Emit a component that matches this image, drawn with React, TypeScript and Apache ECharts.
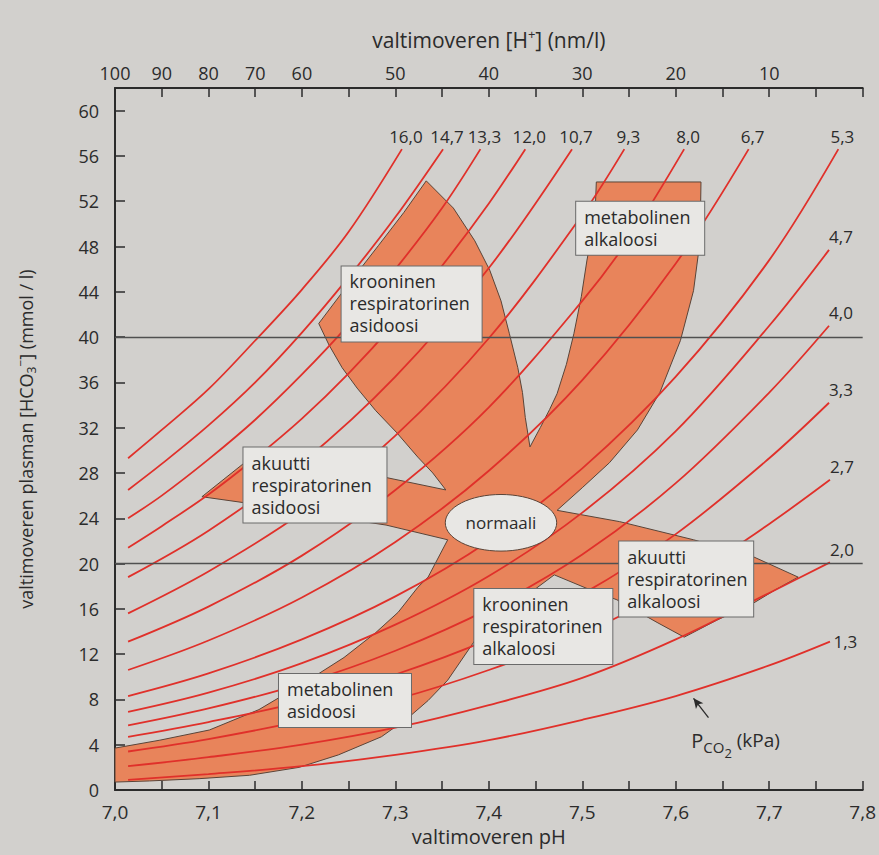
import React, { useEffect, useRef } from 'react';
import * as echarts from 'echarts';

// ---------- data ----------
const phTickLabels = ['7,0', '7,1', '7,2', '7,3', '7,4', '7,5', '7,6', '7,7', '7,8'];
const hTickPositions = [7.0, 7.05, 7.1, 7.15, 7.2, 7.3, 7.4, 7.5, 7.6, 7.7];
const hTickLabels = ['100', '90', '80', '70', '60', '50', '40', '30', '20', '10'];

const isobarLabels = ['16,0', '14,7', '13,3', '12,0', '10,7', '9,3', '8,0', '6,7', '5,3', '4,7', '4,0', '3,3', '2,7', '2,0', '1,3'];

const iso16_0 = [[7.014, 29.3], [7.05, 31.8], [7.1, 35.4], [7.15, 39.7], [7.2, 44.2], [7.25, 49.3], [7.307, 56.6]];
const iso14_7 = [[7.014, 26.5], [7.05, 28.8], [7.1, 32.2], [7.15, 36.0], [7.2, 40.4], [7.25, 45.3], [7.3, 50.6], [7.351, 56.6]];
const iso13_3 = [[7.014, 24.0], [7.05, 26.0], [7.1, 29.2], [7.15, 32.7], [7.2, 36.7], [7.25, 41.1], [7.3, 46.0], [7.35, 51.4], [7.391, 56.6]];
const iso12_0 = [[7.014, 21.4], [7.05, 23.3], [7.1, 26.1], [7.15, 29.3], [7.2, 32.8], [7.25, 36.8], [7.3, 41.3], [7.35, 46.3], [7.4, 51.8], [7.439, 56.6]];
const iso10_7 = [[7.014, 18.8], [7.1, 22.9], [7.2, 28.9], [7.3, 36.5], [7.4, 46.1], [7.489, 56.6]];
const iso9_3 = [[7.014, 15.6], [7.1, 19.3], [7.2, 24.5], [7.3, 31.3], [7.4, 39.9], [7.5, 50.8], [7.545, 56.6]];
const iso8_0 = [[7.014, 13.1], [7.1, 16.2], [7.2, 20.7], [7.3, 26.5], [7.4, 33.8], [7.5, 43.2], [7.55, 48.7], [7.609, 56.6]];
const iso6_7 = [[7.014, 10.6], [7.1, 13.2], [7.2, 17.0], [7.3, 21.9], [7.4, 28.2], [7.5, 36.2], [7.6, 46.5], [7.678, 56.6]];
const iso5_3 = [[7.014, 8.3], [7.1, 10.3], [7.2, 13.3], [7.3, 17.1], [7.4, 22.0], [7.5, 28.4], [7.6, 36.5], [7.7, 46.8], [7.774, 56.6]];
const iso4_7 = [[7.014, 6.9], [7.1, 8.6], [7.2, 11.2], [7.3, 14.6], [7.4, 18.9], [7.5, 24.5], [7.6, 31.7], [7.7, 41.0], [7.764, 47.7]];
const iso4_0 = [[7.014, 5.7], [7.1, 7.2], [7.2, 9.4], [7.3, 12.3], [7.4, 16.0], [7.5, 20.8], [7.6, 27.1], [7.7, 35.1], [7.764, 41.0]];
const iso3_3 = [[7.014, 4.7], [7.1, 6.0], [7.2, 7.8], [7.3, 10.2], [7.4, 13.3], [7.5, 17.3], [7.6, 22.6], [7.7, 29.3], [7.764, 34.2]];
const iso2_7 = [[7.014, 3.4], [7.1, 4.5], [7.2, 6.1], [7.3, 8.0], [7.4, 10.6], [7.5, 13.8], [7.6, 18.0], [7.7, 23.5], [7.765, 27.4]];
const iso2_0 = [[7.014, 2.1], [7.1, 2.9], [7.2, 4.0], [7.3, 5.5], [7.4, 7.5], [7.5, 9.9], [7.6, 13.3], [7.7, 17.4], [7.765, 20.1]];
const iso1_3 = [[7.014, 0.9], [7.1, 1.4], [7.2, 2.1], [7.3, 3.1], [7.4, 4.4], [7.5, 6.2], [7.6, 8.3], [7.7, 11.0], [7.765, 13.1]];

const isobars = [iso16_0, iso14_7, iso13_3, iso12_0, iso10_7, iso9_3, iso8_0, iso6_7, iso5_3, iso4_7, iso4_0, iso3_3, iso2_7, iso2_0, iso1_3];

// outline of the shaded (orange) compensation zones, [pH, HCO3]
const regionOutline = [
  [7.333, 53.8], [7.362, 51.4], [7.385, 48.5], [7.401, 45.9], [7.413, 43.2], [7.422, 40.3], [7.431, 37.3], [7.436, 35.1], [7.439, 32.9], [7.444, 30.3],
  [7.455, 32.0], [7.465, 33.6], [7.473, 35.0], [7.483, 37.6], [7.491, 40.3], [7.499, 43.6], [7.505, 46.8], [7.511, 49.4], [7.514, 51.6], [7.515, 53.7],
  [7.627, 53.7], [7.626, 48.5], [7.619, 44.1], [7.605, 39.7], [7.583, 35.1], [7.559, 31.8], [7.529, 28.9], [7.5, 26.7], [7.473, 24.7],
  [7.54, 23.7], [7.619, 22.1], [7.683, 20.6], [7.731, 18.8],
  [7.707, 17.7], [7.683, 16.5], [7.644, 15.0], [7.609, 13.5],
  [7.58, 14.8], [7.537, 16.8], [7.505, 17.8], [7.47, 19.0],
  [7.431, 16.6], [7.385, 13.2], [7.356, 9.7], [7.335, 7.9], [7.314, 6.4], [7.285, 4.7], [7.239, 3.1], [7.197, 2.0], [7.144, 1.3], [7.09, 1.0], [7.037, 0.8], [7.0, 0.7],
  [7.0, 3.7], [7.048, 4.4], [7.101, 5.3], [7.154, 7.1], [7.207, 9.7], [7.245, 11.7], [7.279, 13.9], [7.303, 15.7], [7.324, 17.9], [7.335, 18.8], [7.356, 22.1],
  [7.29, 23.4], [7.218, 24.3], [7.136, 25.4], [7.093, 25.9],
  [7.137, 28.8], [7.218, 28.0], [7.29, 27.6], [7.354, 26.5],
  [7.34, 28.0], [7.324, 29.4], [7.301, 31.6], [7.279, 33.5], [7.259, 35.5], [7.243, 37.3], [7.229, 39.3], [7.218, 41.2],
  [7.25, 44.7], [7.282, 48.1], [7.309, 51.0],
];

const normalCenter = [7.413, 23.6];
const normalHalfSize = [0.0596, 2.5];

const boxTexts = [
  'krooninen\nrespiratorinen\nasidoosi',
  'metabolinen\nalkaloosi',
  'akuutti\nrespiratorinen\nasidoosi',
  'akuutti\nrespiratorinen\nalkaloosi',
  'krooninen\nrespiratorinen\nalkaloosi',
  'metabolinen\nasidoosi',
];

const refLines = [20, 40];

// ---------- layout / styles ----------
const boxAnchors = [[7.243, 46.2], [7.494, 51.9], [7.138, 30.2], [7.54, 21.9], [7.385, 17.7], [7.176, 10.2]];
const boxWidths = [140, 128, 143, 134, 138, 132];
const pcoAnchor = [7.664, 4.4];
const arrowFrom = [7.635, 6.4];
const arrowTo = [7.619, 8.1];

const FONT = '"Open Sans", "Noto Sans", sans-serif';
const BG = '#d2d0cd';
const ORANGE = '#e8845b';
const RED = '#e0302a';
const BOXFILL = '#e8e7e4';
const EDGE = '#5a4438';
const TXT = '#2b2b2b';

function buildOption(): any {
  const series: any[] = [];

  series.push({
    type: 'custom',
    z: 1,
    silent: true,
    data: [regionOutline[0]],
    renderItem: (_p: any, api: any) => ({
      type: 'polygon',
      shape: { points: regionOutline.map((pt) => api.coord(pt)) },
      style: { fill: ORANGE, stroke: EDGE, lineWidth: 1 },
    }),
  });

  isobars.forEach((c, i) => {
    series.push({
      type: 'line',
      z: 3,
      silent: true,
      data: c,
      smooth: 0.35,
      symbol: 'none',
      showSymbol: false,
      lineStyle: { color: RED, width: 1.8 },
      markLine:
        i === 0
          ? {
              silent: true,
              symbol: ['none', 'none'],
              label: { show: false },
              lineStyle: { color: '#505050', width: 1.4, type: 'solid' },
              data: refLines.map((v) => ({ yAxis: v })),
            }
          : undefined,
    });
  });

  series.push({
    type: 'scatter',
    z: 6,
    silent: true,
    symbolSize: 1,
    itemStyle: { color: 'rgba(0,0,0,0)', opacity: 1 },
    data: isobars.map((c, i) => {
      const last = c[c.length - 1];
      let label: any;
      if (i < 9) label = { position: 'top', distance: 4, offset: [4, 0] };
      else if (i < 14) label = { position: 'top', distance: 4, offset: [12, 0] };
      else label = { position: 'right', distance: 3 };
      return {
        value: last,
        label: { show: true, formatter: isobarLabels[i], color: TXT, fontSize: 17, fontFamily: FONT, ...label },
      };
    }),
  });

  series.push({
    type: 'custom',
    z: 8,
    silent: true,
    data: [normalCenter],
    renderItem: (_p: any, api: any) => {
      const c = api.coord([api.value(0), api.value(1)]);
      const s = api.size(normalHalfSize);
      return {
        type: 'group',
        children: [
          { type: 'ellipse', shape: { cx: c[0], cy: c[1], rx: s[0], ry: s[1] }, style: { fill: BOXFILL, stroke: EDGE, lineWidth: 1 } },
          { type: 'text', x: c[0], y: c[1], style: { text: 'normaali', fill: TXT, font: `17px ${FONT}`, align: 'center', verticalAlign: 'middle' } },
        ],
      };
    },
  });

  series.push({
    type: 'scatter',
    z: 10,
    silent: true,
    symbolSize: 1,
    itemStyle: { color: 'rgba(0,0,0,0)', opacity: 1 },
    data: boxAnchors.map((p, i) => ({
      value: p,
      label: {
        show: true,
        formatter: boxTexts[i],
        position: [0, 0],
        align: 'left',
        verticalAlign: 'top',
        width: boxWidths[i] - 14,
        lineHeight: 22,
        fontSize: 18,
        fontFamily: FONT,
        color: TXT,
        backgroundColor: BOXFILL,
        borderColor: '#6a6a6a',
        borderWidth: 1,
        padding: [4, 6, 5, 8],
      },
    })),
  });

  series.push({
    type: 'scatter',
    z: 10,
    silent: true,
    symbolSize: 1,
    itemStyle: { color: 'rgba(0,0,0,0)', opacity: 1 },
    data: [
      {
        value: pcoAnchor,
        label: {
          show: true,
          position: 'inside',
          formatter: '{p|P}{s|CO}{ss|2}{n| (kPa)}',
          rich: {
            p: { fontSize: 20, fontFamily: FONT, color: TXT },
            s: { fontSize: 15, fontFamily: FONT, color: TXT, padding: [14, 0, 0, 0] },
            ss: { fontSize: 13, fontFamily: FONT, color: TXT, padding: [26, 0, 0, 0] },
            n: { fontSize: 19, fontFamily: FONT, color: TXT },
          },
        },
      },
    ],
    markLine: {
      silent: true,
      symbol: ['none', 'arrow'],
      symbolSize: [7, 10],
      label: { show: false },
      lineStyle: { color: '#2a2a2a', width: 1.3, type: 'solid' },
      data: [[{ coord: arrowFrom }, { coord: arrowTo }]],
    },
  });

  const axisCommon = {
    type: 'value',
    min: 7.0,
    max: 7.8,
    interval: 0.05,
    splitLine: { show: false },
    axisLine: { show: true, lineStyle: { color: '#2b2b2b', width: 2 } },
    axisTick: { show: true, inside: true, length: 9, lineStyle: { color: '#2b2b2b', width: 1.5 } },
  };

  return {
    animation: false,
    backgroundColor: BG,
    textStyle: { fontFamily: FONT },
    grid: { left: 115, right: 12, top: 88, bottom: 65 },
    xAxis: [
      {
        ...axisCommon,
        position: 'bottom',
        name: 'valtimoveren pH',
        nameLocation: 'middle',
        nameGap: 36,
        nameTextStyle: { fontSize: 20, color: TXT, fontFamily: FONT },
        axisLabel: {
          fontSize: 19,
          color: TXT,
          margin: 12,
          fontFamily: FONT,
          formatter: (v: number) => {
            const k = Math.round(v * 100);
            return k % 10 === 0 ? phTickLabels[(k - 700) / 10] || '' : '';
          },
        },
      },
      {
        ...axisCommon,
        position: 'top',
        name: 'valtimoveren [H{sup|+}] (nm/l)',
        nameLocation: 'middle',
        nameGap: 36,
        nameTextStyle: {
          fontSize: 21,
          color: TXT,
          fontFamily: FONT,
          rich: { sup: { fontSize: 13, color: TXT, fontFamily: FONT, padding: [0, 0, 12, 0] } },
        },
        axisLabel: {
          fontSize: 18,
          color: TXT,
          margin: 6,
          fontFamily: FONT,
          formatter: (v: number) => {
            const idx = hTickPositions.findIndex((p) => Math.abs(p - v) < 1e-6);
            return idx >= 0 ? hTickLabels[idx] : '';
          },
        },
      },
    ],
    yAxis: {
      type: 'value',
      min: 0,
      max: 62,
      interval: 4,
      splitLine: { show: false },
      axisLine: { show: true, lineStyle: { color: '#2b2b2b', width: 2 } },
      axisTick: { show: true, inside: true, length: 10, lineStyle: { color: '#2b2b2b', width: 1.5 } },
      axisLabel: {
        fontSize: 18,
        color: TXT,
        margin: 16,
        fontFamily: FONT,
        showMaxLabel: false,
        formatter: (v: number) => (v > 60 ? '' : String(v)),
      },
      name: 'valtimoveren plasman [HCO{sub|3}{sup|−}] (mmol / l)',
      nameLocation: 'middle',
      nameGap: 78,
      nameRotate: 90,
      nameTextStyle: {
        fontSize: 18,
        color: TXT,
        fontFamily: FONT,
        rich: {
          sub: { fontSize: 12, color: TXT, fontFamily: FONT, padding: [11, 0, 0, 0] },
          sup: { fontSize: 12, color: TXT, fontFamily: FONT, padding: [0, 0, 11, 0] },
        },
      },
    },
    series,
  };
}

export default function App() {
  const ref = useRef<HTMLDivElement>(null);
  useEffect(() => {
    if (!ref.current) return;
    const chart = echarts.init(ref.current, null, { renderer: 'svg' });
    chart.setOption(buildOption());
    return () => chart.dispose();
  }, []);
  return (
    <div
      ref={ref}
      style={{ position: 'fixed', left: 0, top: 0, width: 879, height: 855, background: BG }}
    />
  );
}
